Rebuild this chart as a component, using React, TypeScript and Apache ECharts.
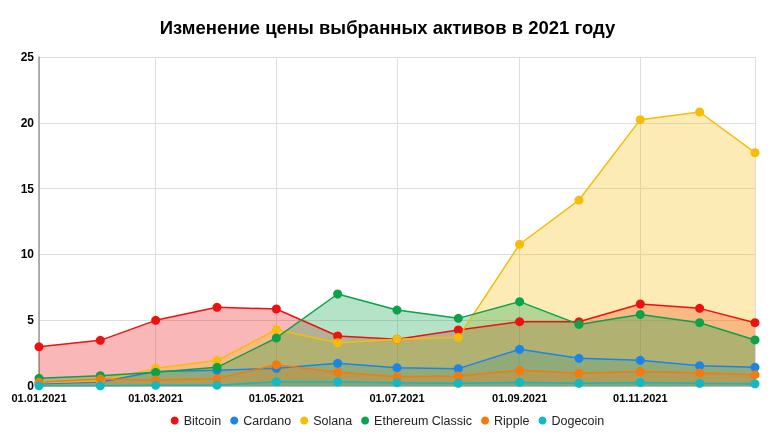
import React, { useEffect, useRef } from "react";
import * as echarts from "echarts";

const dates = [
  "2021-01-01", "2021-02-01", "2021-03-01", "2021-04-01", "2021-05-01", "2021-06-01", "2021-07-01",
  "2021-08-01", "2021-09-01", "2021-10-01", "2021-11-01", "2021-12-01", "2021-12-29",
];
const bitcoin = [2.98, 3.47, 4.99, 5.98, 5.85, 3.8, 3.55, 4.26, 4.89, 4.88, 6.23, 5.9, 4.81];
const cardano = [0.18, 0.3, 1.1, 1.19, 1.34, 1.72, 1.39, 1.32, 2.79, 2.1, 1.95, 1.54, 1.42];
const solana = [0.25, 0.4, 1.34, 1.93, 4.28, 3.29, 3.55, 3.7, 10.77, 14.13, 20.24, 20.82, 17.73];
const ethereumClassic = [0.58, 0.78, 1.04, 1.42, 3.65, 6.99, 5.77, 5.14, 6.41, 4.68, 5.44, 4.81, 3.5];
const ripple = [0.28, 0.53, 0.45, 0.56, 1.62, 1.04, 0.71, 0.76, 1.19, 0.96, 1.11, 0.99, 0.86];
const dogecoin = [0.01, 0.01, 0.05, 0.06, 0.33, 0.32, 0.25, 0.21, 0.28, 0.21, 0.27, 0.2, 0.17];

const seriesNames = ["Bitcoin", "Cardano", "Solana", "Ethereum Classic", "Ripple", "Dogecoin"];
const seriesValues = [bitcoin, cardano, solana, ethereumClassic, ripple, dogecoin];
const colors = ["#ee1111", "#1a85e8", "#f5bd0a", "#0aa24a", "#f57a0c", "#14b8c2"];

const FONT = "Liberation Sans, Arial, sans-serif";

export default function App() {
  const ref = useRef<HTMLDivElement>(null);
  useEffect(() => {
    if (!ref.current) return;
    const chart = echarts.init(ref.current, null, { renderer: "svg" });
    chart.setOption({
      animation: false,
      color: colors,
      title: {
        text: "Изменение цены выбранных активов в 2021 году",
        left: "center",
        top: 13,
        textStyle: { fontFamily: FONT, fontSize: 18.5, fontWeight: "bold", color: "#000" },
      },
      legend: {
        bottom: 9,
        icon: "circle",
        itemWidth: 8,
        itemHeight: 8,
        itemGap: 9,
        textStyle: { fontFamily: FONT, fontSize: 12.5, color: "#222" },
        data: seriesNames,
      },
      grid: { left: 39, right: 20, top: 57, bottom: 55, containLabel: false },
      xAxis: {
        type: "time",
        min: dates[0],
        max: dates[dates.length - 1],
        splitNumber: 5,
        axisLine: { show: true, lineStyle: { color: "#bbb" } },
        axisTick: { show: false },
        splitLine: { show: true, lineStyle: { color: "#dddddd" } },
        axisLabel: {
          formatter: "{dd}.{MM}.{yyyy}",
          color: "#000",
          fontWeight: "bold",
          fontSize: 11,
          fontFamily: FONT,
          margin: 6,
          hideOverlap: true,
        },
      },
      yAxis: {
        type: "value",
        min: 0,
        max: 25,
        interval: 5,
        axisLine: { show: true, lineStyle: { color: "#999", width: 1.5 } },
        axisTick: { show: false },
        splitLine: { show: true, lineStyle: { color: "#dddddd" } },
        axisLabel: {
          color: "#000",
          fontWeight: "bold",
          fontSize: 12,
          lineHeight: 12,
          fontFamily: FONT,
          margin: 5,
        },
      },
      series: seriesNames.map((name, i) => ({
        name,
        type: "line",
        data: dates.map((d, j) => [d, seriesValues[i][j]]),
        symbol: "circle",
        symbolSize: 9,
        lineStyle: { width: 1.5 },
        areaStyle: { opacity: 0.3 },
        z: 2,
      })),
    });
    return () => chart.dispose();
  }, []);
  return (
    <div
      ref={ref}
      style={{ position: "fixed", left: 0, top: 0, width: 775, height: 441 }}
    />
  );
}
